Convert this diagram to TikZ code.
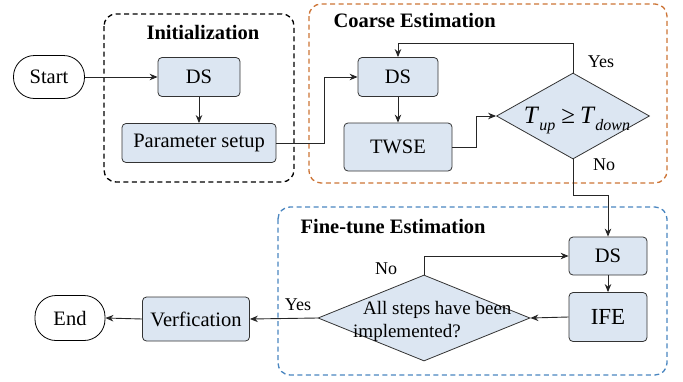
\documentclass[tikz,border=0pt]{standalone}
\usepackage{fontspec}
\setmainfont{Liberation Serif}
\usetikzlibrary{arrows.meta,shapes.geometric}
\definecolor{boxfill}{HTML}{DCE6F2}
\definecolor{orangeb}{HTML}{CD7436}
\definecolor{blueb}{HTML}{4A86C0}
\newcommand{\mysub}[1]{\raisebox{-0.3em}{\fontsize{16}{17}\selectfont\itshape #1}}
\tikzset{
  proc/.style={draw=black!80, line width=0.8pt, fill=boxfill, rounded corners=4pt, inner sep=0pt, font=\fontsize{20.5}{22}\selectfont},
  term/.style={draw=black, line width=0.8pt, fill=white, rounded corners=21pt, inner sep=0pt, font=\fontsize{20.5}{22}\selectfont},
  group/.style={dashed, dash pattern=on 5pt off 3.5pt, line width=1.3pt, rounded corners=12pt},
  ttl/.style={font=\fontsize{20.5}{22}\selectfont\bfseries, anchor=west},
  lbl/.style={font=\fontsize{18}{20}\selectfont},
  arr/.style={-{Stealth[length=8pt,width=6.5pt]}, line width=0.9pt, black!85},
  decbox/.style={draw=black!80, line width=0.8pt, fill=boxfill, inner sep=0pt, shape=diamond},
  dtext/.style={font=\fontsize{19}{21}\selectfont, inner sep=0pt, anchor=base west}
}
\begin{document}
\begin{tikzpicture}[x=1pt,y=-1pt]
\useasboundingbox (0,0) rectangle (683,381);
% groups
\draw[group, black] (104,14) rectangle (294,182);
\draw[group, orangeb] (309,4) rectangle (667,183);
\draw[group, blueb] (278,207) rectangle (667,375);
\node[ttl] (t1) at (143,32) {Initialization};
\node[ttl] (t2) at (330,20) {Coarse Estimation};
\node[ttl] (t3) at (297,227) {Fine-tune Estimation};
% nodes
\node[term, minimum width=71pt, minimum height=43pt] (start) at (49,77) {Start};
\node[proc, minimum width=82pt, minimum height=39pt] (ds1) at (199,77) {DS};
\node[proc, minimum width=154pt, minimum height=39pt] (ps) at (199,143) {Parameter setup};
\node[proc, minimum width=80pt, minimum height=39pt] (ds2) at (398,77) {DS};
\node[proc, minimum width=108pt, minimum height=48pt] (twse) at (398,147) {TWSE};
\node[decbox, minimum width=153pt, minimum height=86pt, aspect=1.78] (d1) at (573,116) {};
\node[font=\fontsize{25}{27}\selectfont, inner sep=0pt, anchor=base] (d1t) at (577,123) {\textit{T}\mysub{up}\hspace{6pt}≥\hspace{5pt}\textit{T}\mysub{down}};
\node[proc, minimum width=78pt, minimum height=38pt] (ds3) at (608,256) {DS};
\node[proc, minimum width=78pt, minimum height=49pt, font=\fontsize{23}{25}\selectfont] (ife) at (608,317) {IFE};
\node[decbox, minimum width=212pt, minimum height=86pt, aspect=2.46] (d2) at (424,318) {};
\node[dtext] (d2a) at (363,314) {All steps have been};
\node[dtext] (d2b) at (353,337) {implemented?};
\node[proc, minimum width=107pt, minimum height=44pt] (ver) at (196,319) {Verfication};
\node[term, minimum width=70pt, minimum height=45pt] (end) at (70,318) {End};
% connectors
\draw[arr] (start) -- (ds1);
\draw[arr] (ds1) -- (ps);
\coordinate (c1) at (324,143);
\coordinate (c2) at (324,77);
\draw[arr] (ps.east) -- (c1) -- (c2) -- (ds2.west);
\draw[arr] (ds2) -- (twse);
\coordinate (c3) at (476,147);
\coordinate (c4) at (476,116);
\draw[arr] (twse.east) -- (c3) -- (c4) -- (d1.west);
\coordinate (c5) at (573,43);
\coordinate (c6) at (398,43);
\draw[arr] (d1.north) -- (c5) -- (c6) -- (ds2.north);
\coordinate (c7) at (573,195);
\coordinate (c8) at (608,195);
\draw[arr] (d1.south) -- (c7) -- (c8) -- (ds3.north);
\draw[arr] (ds3) -- (ife);
\draw[arr] (ife.west) -- (d2.east);
\coordinate (c9) at (424,256);
\draw[arr] (d2.north) -- (c9) -- (ds3.west);
\draw[arr] (d2.west) -- (ver.east);
\draw[arr] (ver.west) -- (end.east);
% labels
\node[lbl] (yes1) at (601,62) {Yes};
\node[lbl] (no1) at (604,165) {No};
\node[lbl] (no2) at (386,269) {No};
\node[lbl] (yes2) at (298,305) {Yes};
\end{tikzpicture}
\end{document}
